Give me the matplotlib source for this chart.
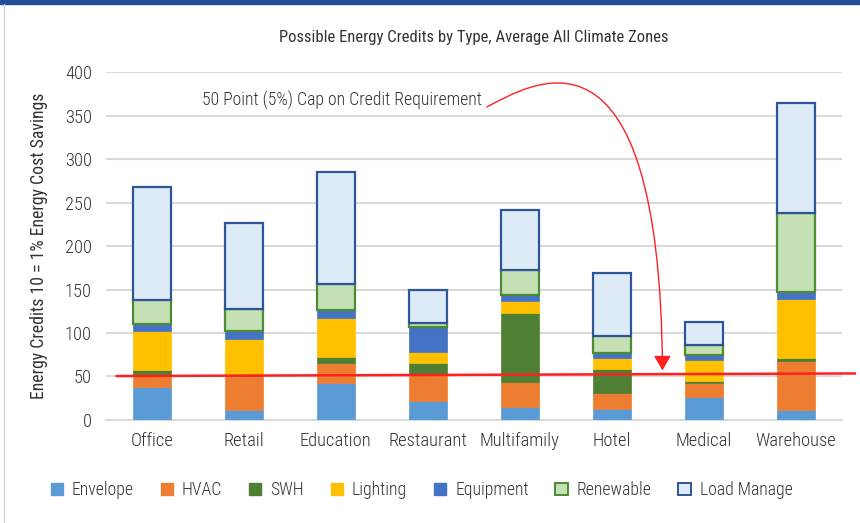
import matplotlib.pyplot as plt
import numpy as np
from matplotlib.patches import Patch, FancyArrowPatch, Rectangle
from matplotlib.lines import Line2D
from matplotlib.path import Path

plt.rcParams['font.family'] = ['Roboto Condensed', 'DejaVu Sans']
plt.rcParams['font.weight'] = 300

# data
categories = ['Office', 'Retail', 'Education', 'Restaurant', 'Multifamily', 'Hotel', 'Medical', 'Warehouse']
envelope = [38, 12, 42, 22, 15, 13, 26, 12]
hvac = [15, 38, 23, 31, 29, 18, 17, 56]
swh = [4, 3, 7, 13, 79, 28, 2, 3]
lighting = [45, 40, 45, 12, 14, 12, 24, 68]
equipment = [8, 9, 9, 29, 7, 6, 6, 8]
renewable = [28, 26, 30, 4, 29, 19, 11, 91]
load_manage = [130, 98, 129, 39, 69, 73, 27, 126]
cap_line = [50.5, 53.5]

series = [
    ('Envelope', envelope, '#5B9BD5', None),
    ('HVAC', hvac, '#ED7D31', None),
    ('SWH', swh, '#4E7F32', None),
    ('Lighting', lighting, '#FFC000', None),
    ('Equipment', equipment, '#4472C4', None),
    ('Renewable', renewable, '#C5E0B4', '#4E8A32'),
    ('Load Manage', load_manage, '#DDEBF7', '#2F5597'),
]

fs = 12.8

fig = plt.figure(figsize=(8.6, 5.23), dpi=100)
ax = fig.add_axes([0.123, 0.197, 0.856, 0.665])

x = np.arange(len(categories))
bottom = np.zeros(len(categories))
handles = []
for name, vals, fc, ec in series:
    if ec is None:
        ax.bar(x, vals, 0.41, bottom=bottom, color=fc, edgecolor=fc, linewidth=0.5, zorder=3)
        handles.append(Patch(facecolor=fc, edgecolor=fc, label=name))
    else:
        ax.bar(x, vals, 0.41, bottom=bottom, color=fc, edgecolor=ec, linewidth=1.6, zorder=3)
        handles.append(Patch(facecolor=fc, edgecolor=ec, linewidth=1.4, label=name))
    bottom += np.array(vals)

ax.set_ylim(0, 400)
ax.set_xlim(-0.5, len(categories) - 0.5)
ax.set_yticks(range(0, 401, 50))
ax.set_xticks(x)
ax.set_xticklabels(categories)
ax.tick_params(axis='both', length=0, labelsize=fs + 0.5, colors='#333333')
ax.tick_params(axis='x', pad=9)
ax.tick_params(axis='y', pad=10)
ax.grid(axis='y', color='#d9d9d9', linewidth=1.5, zorder=0)
for s in ['top', 'right', 'left']:
    ax.spines[s].set_visible(False)
ax.spines['bottom'].set_color('#d9d9d9')
ax.spines['bottom'].set_linewidth(1.5)

ax.set_ylabel('Energy Credits 10 = 1% Energy Cost Savings', fontsize=fs, color='#333333', labelpad=12)
ax.set_title('Possible Energy Credits by Type, Average All Climate Zones', fontsize=12,
             color='#333333', pad=22)

# red cap line
ax.plot([-0.38, 7.64], cap_line, color='#FF2020', linewidth=1.8, zorder=5, clip_on=False)

ax.text(0.55, 368, '50 Point (5%) Cap on Credit Requirement', fontsize=fs, color='#333333',
        va='center', ha='left')
curve = Path([(3.64, 360), (4.11, 385), (5.52, 483), (5.55, 57)],
             [Path.MOVETO, Path.CURVE4, Path.CURVE4, Path.CURVE4])
arrow = FancyArrowPatch(path=curve, arrowstyle='-|>,head_length=6,head_width=3.5',
                        color='#FF2020', linewidth=1.0, zorder=6, mutation_scale=1.5)
ax.add_patch(arrow)

fig.legend(handles=handles, loc='center', bbox_to_anchor=(0.49, 0.063), ncol=7, frameon=False,
           fontsize=fs, handlelength=0.7, handleheight=0.7, handletextpad=0.5,
           columnspacing=1.5, labelcolor='#333333')

# border decorations
fig.add_artist(Rectangle((0, 0.992), 1, 0.008, transform=fig.transFigure, color='#1F4E96'))
fig.add_artist(Line2D([0.005, 0.005], [0, 0.992], transform=fig.transFigure, color='#c8c8e0',
                      linewidth=0.8))

fig.savefig('out.png', dpi=100)
